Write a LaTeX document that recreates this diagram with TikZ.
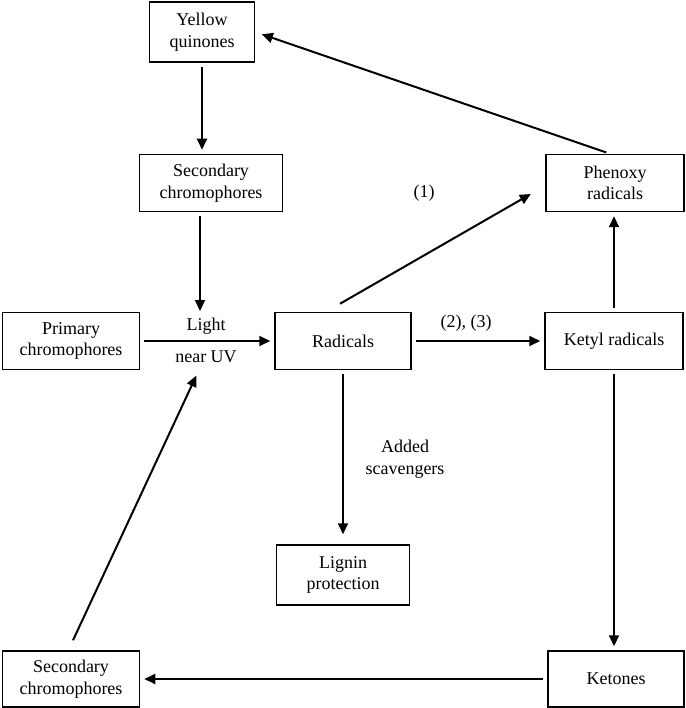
\documentclass[tikz,border=0pt]{standalone}
\usepackage{fontspec}
\setmainfont{Liberation Serif}
\usetikzlibrary{arrows.meta}
\usetikzlibrary{positioning}
\usetikzlibrary{calc}
\tikzset{
	box/.style={draw=black, line width=1.5pt, align=center, inner sep=2pt,
		minimum width=137pt, minimum height=57pt,
		font=\fontsize{18}{21.5}\selectfont},
	lbl/.style={align=center, inner sep=0pt, font=\fontsize{18}{21.5}\selectfont},
	flow/.style={line width=2pt, -{Triangle[length=11pt,width=10pt]},
		shorten <=4pt, shorten >=4pt}
}

\begin{document}
\begin{tikzpicture}[x=1pt,y=-1pt]
		\useasboundingbox (0,0) rectangle (685,708);
		
		%draw boxes
		\node[box, minimum width=105pt, minimum height=60pt] (yq) at (202,32) {Yellow\\quinones};
		\node[box, minimum width=143pt] (sec1) at (211,183) {Secondary\\chromophores};
		\node[box] (prim) at (71,341) {Primary\\chromophores};
		\node[box, minimum width=136pt] (rad) at (343,341) {Radicals};
		\node[box, minimum width=138pt] (phen) at (615,183) {Phenoxy\\radicals};
		\node[box, minimum width=138pt] (ketyl) at (614,341) {Ketyl radicals};
		\node[box, minimum width=133pt, minimum height=60pt] (lig) at (343,575) {Lignin\\protection};
		\node[box, minimum height=56pt] (sec2) at (71,679) {Secondary\\chromophores};
		\node[box, minimum width=136pt, minimum height=56pt] (ket) at (616,679) {Ketones};
		
		%point where light enters
		\coordinate (uv) at (200,342);
		
		%arrows
		\draw[flow] (yq.south) -- (yq.south |- sec1.north);
		\draw[flow, shorten >=0pt] (sec1.south -| uv) -- ($(uv)+(0,-31)$);
		\draw[flow, shorten <=0pt] ($(sec2.north)+(2,-10)$) -- ($(uv)+(-2,30)$);
		\draw[flow] (prim) -- (rad);
		\draw[flow] (rad) -- (ketyl);
		\draw[flow, shorten <=0pt] ($(rad.north)+(-3,-8)$) -- ($(phen.west)+(-11,9)$);
		\draw[flow] (ketyl.north) -- (ketyl.north |- phen.south);
		\draw[flow, shorten >=7pt] ($(phen.north)+(-5,0)$) -- (yq.east);
		\draw[flow, shorten >=10pt] (rad.south) -- (lig.north);
		\draw[flow] (ketyl.south) -- (ketyl.south |- ket.north);
		\draw[flow] (ket) -- (sec2);
		
		%labels
		\node[lbl] (light) at (206,326) {Light};
		\node[lbl] (near) at (206,357) {near UV};
		\node[lbl] (one) at (424,193) {(1)};
		\node[lbl] (two) at (466,323) {(2), (3)};
		\node[lbl] (scav) at (405,459) {Added\\scavengers};
	\end{tikzpicture}
\end{document}
